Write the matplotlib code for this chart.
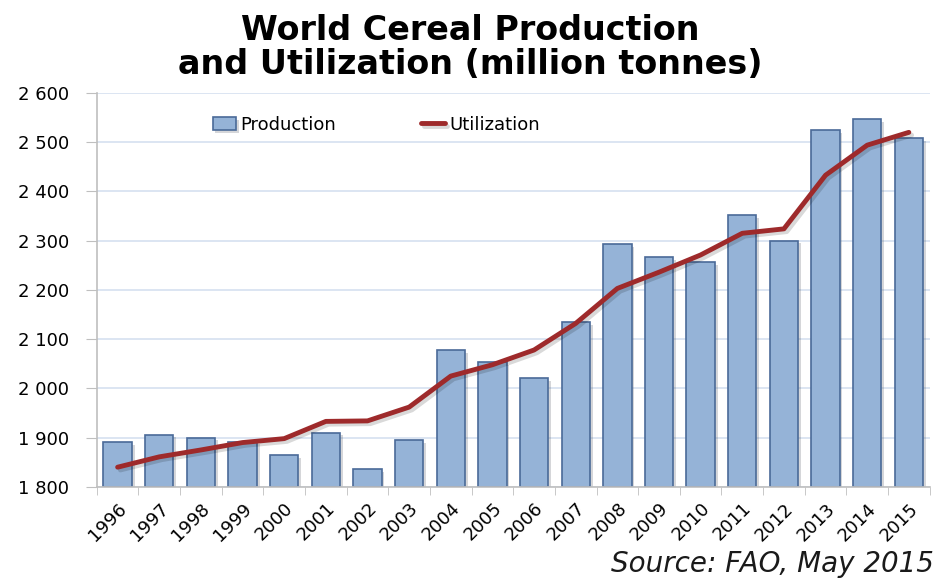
import matplotlib.pyplot as plt
import matplotlib.patheffects as pe
import numpy as np

plt.rcParams['font.family'] = ['DejaVu Sans']

years = [str(y) for y in range(1996, 2016)]
production = [1891, 1906, 1900, 1892, 1864, 1910, 1836, 1895, 2077, 2054,
              2021, 2135, 2293, 2267, 2257, 2352, 2300, 2525, 2547, 2508]
utilization = [1840, 1861, 1875, 1890, 1898, 1933, 1934, 1962, 2025, 2048,
               2078, 2132, 2203, 2236, 2271, 2315, 2324, 2433, 2494, 2520]
yticks = [1800, 1900, 2000, 2100, 2200, 2300, 2400, 2500, 2600]

fig = plt.figure(figsize=(9.4, 5.81), dpi=100)
ax = fig.add_axes([0.103, 0.162, 0.886, 0.678])

x = np.arange(len(years))
bars = ax.bar(x, [p - 1800 for p in production], bottom=1800, width=0.68,
              color='#95B3D7', edgecolor='#4A6A98', linewidth=1.2,
              label='Production', zorder=2,
              path_effects=[pe.SimplePatchShadow(offset=(2, -2), alpha=0.2), pe.Normal()])
line, = ax.plot(x, utilization, color='#9E2A2B', linewidth=3.5, label='Utilization',
                zorder=3, solid_capstyle='round',
                path_effects=[pe.SimpleLineShadow(offset=(2, -2), alpha=0.15), pe.Normal()])

ax.set_xlim(-0.5, len(years) - 0.5)
ax.set_ylim(1800, 2600)
ax.set_yticks(yticks)
ax.set_yticklabels([f'{v:,}'.replace(',', ' ') for v in yticks], fontsize=13)
ax.set_xticks(x)
ax.set_xticklabels(years, rotation=45, ha='right', rotation_mode='anchor', fontsize=13)
ax.set_xticks(np.arange(-0.5, len(years), 1), minor=True)
ax.tick_params(axis='x', which='major', length=0, pad=9)
ax.tick_params(axis='x', which='minor', length=6, color='#BFBFBF')
ax.tick_params(axis='y', length=8, color='#BFBFBF', pad=12)
ax.grid(axis='y', color='#D6E0F0', linewidth=1.2, zorder=0)
ax.set_axisbelow(True)
for s in ['top', 'right']:
    ax.spines[s].set_visible(False)
for s in ['left', 'bottom']:
    ax.spines[s].set_color('#BFBFBF')
    ax.spines[s].set_linewidth(1.2)

ax.legend([bars, line], ['Production', 'Utilization'], loc='upper left',
          bbox_to_anchor=(0.139, 0.942), borderaxespad=0, borderpad=0,
          ncol=2, frameon=False, fontsize=13, handlelength=1.3, handleheight=0.7,
          handletextpad=0.25, columnspacing=4.7)

fig.text(0.5, 0.931, 'World Cereal Production', ha='center', va='baseline',
         fontsize=24, fontweight='bold')
fig.text(0.5, 0.873, 'and Utilization (million tonnes)', ha='center', va='baseline',
         fontsize=24, fontweight='bold')
fig.text(0.993, 0.005, 'Source: FAO, May 2015', ha='right', va='bottom',
         fontsize=20, style='italic', color='#1a1a1a')

fig.savefig('out.png', dpi=100)
